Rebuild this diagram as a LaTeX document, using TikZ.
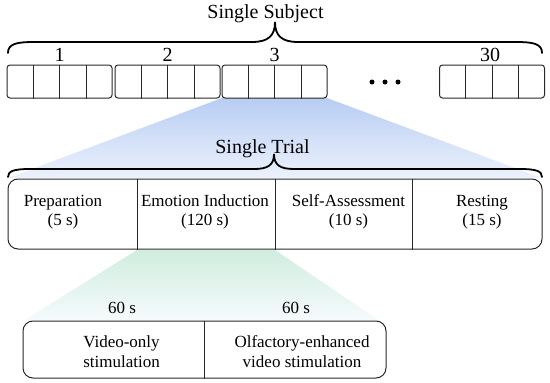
\documentclass[tikz,border=0pt]{standalone}
\usepackage{fontspec}
\setmainfont{Liberation Serif}
\usetikzlibrary{calc}
\definecolor{bluetop}{RGB}{184,205,243}
\definecolor{bluebot}{RGB}{236,242,252}
\definecolor{greentop}{RGB}{208,237,223}
\definecolor{greenbot}{RGB}{246,251,253}
\definecolor{linec}{RGB}{40,40,40}
\begin{document}
\begin{tikzpicture}[x=1pt,y=-1pt,
  blk/.style={draw=linec,line width=1pt,rounded corners=3pt,minimum width=105pt,minimum height=33pt,inner sep=0pt},
  bigbox/.style={draw=linec,line width=1pt,rounded corners=10pt,inner sep=0pt,fill=white},
  div/.style={draw=linec,line width=1pt},
  bracestyle/.style={draw=black,line width=1.8pt,line cap=round},
  title/.style={font=\fontsize{20}{24}\selectfont,inner sep=0pt,anchor=base},
  num/.style={font=\fontsize{20}{24}\selectfont,inner sep=0pt,anchor=base},
  lbl/.style={font=\fontsize{17}{19.5}\selectfont,align=center,inner sep=0pt},
  dur/.style={font=\fontsize{17}{20}\selectfont,inner sep=0pt,anchor=base},
  dotc/.style={circle,fill=black,inner sep=0pt,minimum size=5pt}]
\useasboundingbox (0,0) rectangle (550,383);

% gradients
\shade[top color=bluetop,bottom color=bluebot] (222,98) -- (327,98) -- (542,178) -- (8,178) -- cycle;
\shade[top color=greentop,bottom color=greenbot] (137,250) -- (275,250) -- (380,321) -- (23,321) -- cycle;

% top blocks
\node[blk] (b1) at (59.5,81.5) {};
\node[blk] (b2) at (167.5,81.5) {};
\node[blk] (b3) at (274.5,81.5) {};
\node[blk] (b30) at (492,81.5) {};
\foreach \b in {b1,b2,b3,b30}{
  \foreach \i in {1,2,3}{
    \draw[div] ($(\b.north west)!\i/4!(\b.north east)$) -- ($(\b.south west)!\i/4!(\b.south east)$);
  }
}
\node[num] (n1) at ($(b1.north)+(0,-3)$) {1};
\node[num] (n2) at ($(b2.north)+(0,-3)$) {2};
\node[num] (n3) at ($(b3.north)+(0,-3)$) {3};
\node[num] (n30) at ($(b30.north)+(-2,-3)$) {30};
\node[dotc] (d1) at (372,82) {};
\node[dotc] (d2) at (385,82) {};
\node[dotc] (d3) at (398,82) {};

% top brace and title
\draw[bracestyle] (8,53) .. controls (8,44) and (16,42) .. (34,42) -- (252,42)
  .. controls (268,42) and (275,36) .. (275,22)
  .. controls (275,36) and (282,42) .. (298,42) -- (516,42)
  .. controls (534,42) and (542,44) .. (542,53);
\node[title] (subj) at (265.5,18.5) {Single Subject};

% trial
\draw[bracestyle] (8,177) .. controls (8,171) and (14,169) .. (30,169) -- (254,169)
  .. controls (268,169) and (274,165) .. (274,154)
  .. controls (274,165) and (280,169) .. (294,169) -- (520,169)
  .. controls (536,169) and (542,171) .. (542,177);
\node[title] (trial) at (262.5,153) {Single Trial};
\node[bigbox,minimum width=534pt,minimum height=70pt] (tr) at (275,214) {};
\coordinate (td1) at (137,0);
\coordinate (td2) at (275,0);
\coordinate (td3) at (412,0);
\foreach \c in {td1,td2,td3}{
  \draw[div] (\c |- tr.north) -- (\c |- tr.south);
}
\node[lbl] (prep) at (63,212) {Preparation\\(5 s)};
\node[lbl] (emo) at (205,212) {Emotion Induction\\(120 s)};
\node[lbl] (self) at (348.5,212) {Self-Assessment\\(10 s)};
\node[lbl] (rest) at (482,212) {Resting\\(15 s)};

% bottom
\node[bigbox,minimum width=363pt,minimum height=57pt] (bt) at (204.5,349.5) {};
\coordinate (bd) at (204,0);
\draw[div] (bd |- bt.north) -- (bd |- bt.south);
\node[dur] (s1) at (122,313) {60 s};
\node[dur] (s2) at (296,313) {60 s};
\node[lbl,font=\fontsize{17}{20}\selectfont] (vid) at (121.5,352) {Video-only\\stimulation};
\node[lbl,font=\fontsize{17}{20}\selectfont] (olf) at (302,352) {Olfactory-enhanced\\video stimulation};
\end{tikzpicture}
\end{document}
